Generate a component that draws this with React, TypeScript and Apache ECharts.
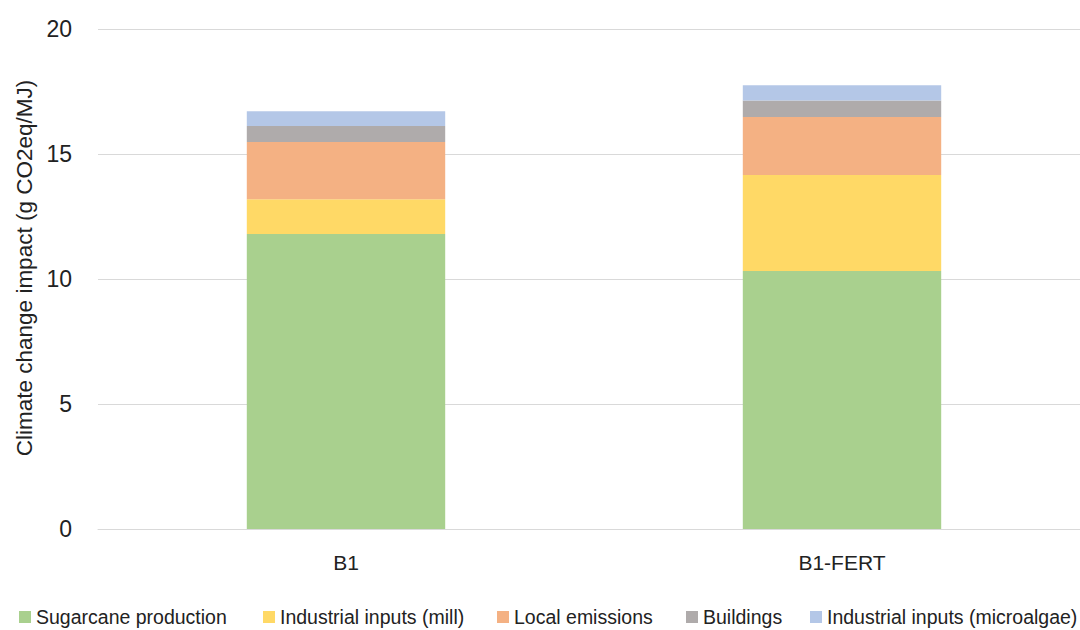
import React, { useEffect, useRef } from "react";
import * as echarts from "echarts";

const categories = ["B1", "B1-FERT"];
const sugarcane = [11.8, 10.32];
const millInputs = [1.39, 3.84];
const localEmissions = [2.29, 2.32];
const buildings = [0.64, 0.66];
const microalgaeInputs = [0.59, 0.61];
const yTicks = [0, 5, 10, 15, 20];

const seriesDefs = [
  { name: "Sugarcane production", data: sugarcane, color: "#A9D08E" },
  { name: "Industrial inputs (mill)", data: millInputs, color: "#FFD966" },
  { name: "Local emissions", data: localEmissions, color: "#F4B183" },
  { name: "Buildings", data: buildings, color: "#AFABAB" },
  { name: "Industrial inputs (microalgae)", data: microalgaeInputs, color: "#B4C7E7" },
];

// legend entries are laid out one per legend block, left edges in px
const legendLefts = [19, 263, 497, 686, 810];

const FONT = "'Liberation Sans', Arial, sans-serif";

export default function App() {
  const ref = useRef<HTMLDivElement>(null);
  useEffect(() => {
    if (!ref.current) return;
    const chart = echarts.init(ref.current, null, { renderer: "svg" });
    chart.setOption({
      animation: false,
      backgroundColor: "#ffffff",
      textStyle: { fontFamily: FONT },
      grid: { left: 98, width: 992, top: 29, bottom: 101, outerBoundsMode: "none", containLabel: false },
      legend: seriesDefs.map((s, i) => ({
        left: legendLefts[i],
        top: 607,
        itemWidth: 12,
        itemHeight: 12,
        icon: "rect",
        padding: 0,
        textStyle: { fontFamily: FONT, fontSize: 19.5, color: "#222" },
        data: [s.name],
      })),
      xAxis: {
        type: "category",
        data: categories,
        axisTick: { show: false },
        axisLine: { show: true, lineStyle: { color: "#d9d9d9", width: 1 } },
        axisLabel: { fontFamily: FONT, fontSize: 21, color: "#222", margin: 23 },
      },
      yAxis: {
        type: "value",
        min: yTicks[0],
        max: yTicks[yTicks.length - 1],
        interval: 5,
        name: "Climate change impact (g CO2eq/MJ)",
        nameLocation: "middle",
        nameGap: 57,
        nameTextStyle: { fontFamily: FONT, fontSize: 22.5, color: "#222", padding: [0, 0, 0, 22] },
        axisLine: { show: false },
        axisTick: { show: false },
        axisLabel: { fontFamily: FONT, fontSize: 23, color: "#222", margin: 26 },
        splitLine: { lineStyle: { color: "#d9d9d9", width: 1 } },
      },
      series: seriesDefs.map((s) => ({
        name: s.name,
        type: "bar",
        stack: "total",
        barWidth: "40%",
        data: s.data,
        itemStyle: { color: s.color },
      })),
    });
    return () => chart.dispose();
  }, []);
  return (
    <div
      ref={ref}
      style={{ position: "fixed", left: 0, top: 0, width: 1080, height: 630, background: "#fff" }}
    />
  );
}
